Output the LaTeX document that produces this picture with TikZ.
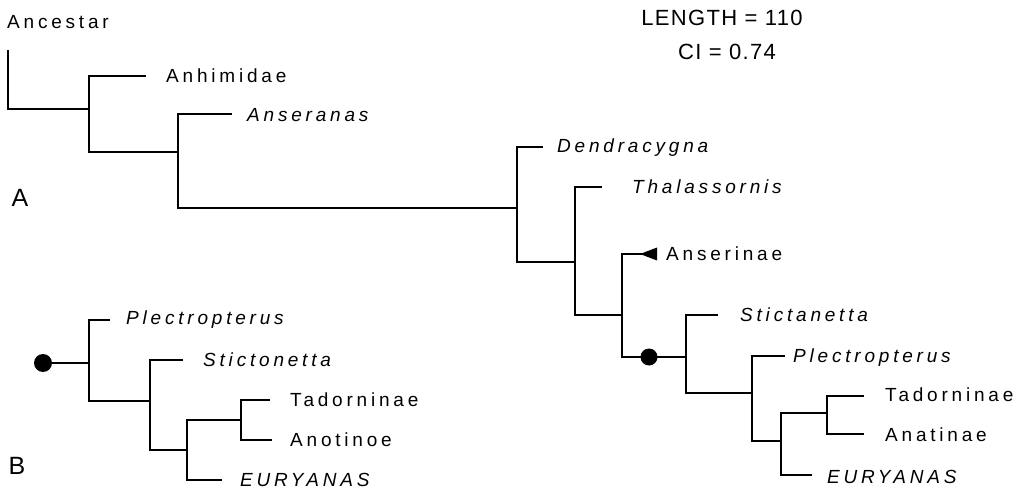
\documentclass[tikz,border=0pt]{standalone}
\usepackage{fontspec}
\setmainfont{Liberation Sans}[LetterSpace=20]
\newfontfamily\headfont{Liberation Sans}[LetterSpace=6]
\begin{document}
\begin{tikzpicture}[x=1pt,y=-1pt,
  br/.style={line width=2.2pt,line cap=butt,line join=miter},
  lbl/.style={anchor=west,inner sep=0pt,font=\fontsize{19}{19}\selectfont},
  tx/.style={lbl,font=\fontsize{19}{19}\selectfont\itshape},
  big/.style={inner sep=0pt,font=\fontsize{25}{25}\selectfont},
  head/.style={inner sep=0pt,font=\headfont\fontsize{22}{22}\selectfont}]
\useasboundingbox (0,0) rectangle (1033,494);

% ---------- tree A: branch points and tips ----------
\coordinate (a0) at (8,50);
\coordinate (a1) at (89,109);
\coordinate (b1) at (89,152);   \coordinate (j2) at (178,152);
\coordinate (b2) at (178,208);  \coordinate (j3) at (517,208);
\coordinate (b3) at (517,262);  \coordinate (j4) at (575,262);
\coordinate (b4) at (575,315);  \coordinate (j5) at (622,315);
\coordinate (b5) at (622,357);  \coordinate (j6) at (686,357);
\coordinate (b6) at (686,393);  \coordinate (j7) at (752,393);
\coordinate (b7) at (752,441);  \coordinate (j8) at (781,441);
\coordinate (b8) at (781,413);  \coordinate (j9) at (827,413);
\coordinate (b9) at (827,434);

\coordinate (tAnhim) at (146,76);
\coordinate (tAnser) at (232,114);
\coordinate (tDendr) at (543,147);
\coordinate (tThal)  at (602,187);
\coordinate (tAnsi)  at (642,254);
\coordinate (tStic)  at (718,315);
\coordinate (tPlec)  at (785,356);
\coordinate (tEury)  at (812,475);
\coordinate (tTado)  at (864,396);
\coordinate (tAnat)  at (864,434);

\draw[br] (a0) |- (a1);
\draw[br] (tAnhim) -| (b1) -- (j2);
\draw[br] (tAnser) -| (b2) -- (j3);
\draw[br] (tDendr) -| (b3) -- (j4);
\draw[br] (tThal)  -| (b4) -- (j5);
\draw[br] (tAnsi)  -| (b5) -- (j6);
\draw[br] (tStic)  -| (b6) -- (j7);
\draw[br] (tPlec)  -| (b7) -- (j8);
\draw[br] (tEury)  -| (b8) -- (j9);
\draw[br] (tTado)  -| (b9) -- (tAnat);

% collapsed clade marker and character state marker
\fill (640,254) -- (657,247.5) -- (657,260.5) -- cycle;
\node[circle,fill,inner sep=0pt,minimum size=17pt] (dotA) at (649,357) {};

% ---------- labels, tree A ----------
\node[lbl] (lAnc) at (7,22) {Ancestar};
\node[lbl] (lAnhim) at (166,76) {Anhimidae};
\node[tx]  (lAnser) at (247,115) {Anseranas};
\node[tx]  (lDendr) at (557,148) {Dendracygna};
\node[tx]  (lThal)  at (632,187) {Thalassornis};
\node[lbl] (lAnsi)  at (666,254) {Anserinae};
\node[tx]  (lStic)  at (740,315) {Stictanetta};
\node[tx]  (lPlec)  at (793,358) {Plectropterus};
\node[lbl] (lTado)  at (885,395) {Tadorninae};
\node[lbl] (lAnat)  at (885,435) {Anatinae};
\node[tx]  (lEury)  at (827,477) {EURYANAS};

\node[big] (lA) at (20,198) {A};
\node[big] (lB) at (17,466) {B};

\node[head] (len) at (722,18) {LENGTH = 110};
\node[head] (ci)  at (727,52) {CI = 0.74};

% ---------- tree B ----------
\node[circle,fill,inner sep=0pt,minimum size=18pt] (dotB) at (43,363) {};
\coordinate (c0) at (89,363);
\coordinate (c1) at (89,401);   \coordinate (k2) at (150,401);
\coordinate (c2) at (150,450);  \coordinate (k3) at (187,450);
\coordinate (c3) at (187,420);  \coordinate (k4) at (241,420);
\coordinate (c4) at (241,440);
\coordinate (uPlec) at (110,320);
\coordinate (uStic) at (183,360);
\coordinate (uEury) at (222,480);
\coordinate (uTado) at (270,400);
\coordinate (uAnot) at (272,440);

\draw[br] (dotB) -- (c0);
\draw[br] (uPlec) -| (c1) -- (k2);
\draw[br] (uStic) -| (c2) -- (k3);
\draw[br] (uEury) -| (c3) -- (k4);
\draw[br] (uTado) -| (c4) -- (uAnot);

\node[tx]  (mPlec) at (126,320) {Plectropterus};
\node[tx]  (mStic) at (203,360) {Stictonetta};
\node[lbl] (mTado) at (290,400) {Tadorninae};
\node[lbl] (mAnot) at (290,440) {Anotinoe};
\node[tx]  (mEury) at (240,480) {EURYANAS};
\end{tikzpicture}
\end{document}
